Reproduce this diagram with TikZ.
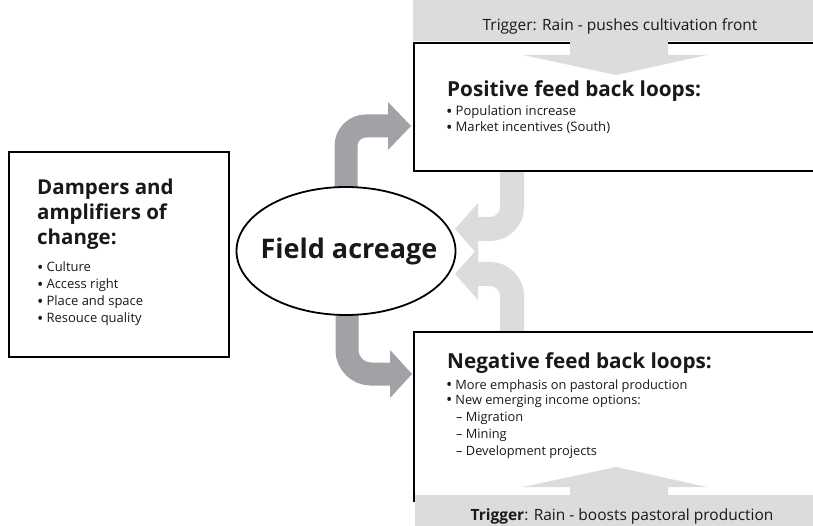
\documentclass[tikz,border=0pt]{standalone}
\usepackage{fontspec}
\setmainfont{Open Sans}
\usetikzlibrary{shapes.geometric,calc}
\definecolor{darkarr}{RGB}{160,162,165}
\definecolor{lightarr}{RGB}{219,220,221}
\definecolor{ink}{RGB}{25,25,25}
\newcommand\mybul{\makebox[0.72em][l]{\raisebox{-0.1em}{\scalebox{1.3}{•}}}}
\pgfdeclarelayer{back}
\pgfdeclarelayer{bg}
\pgfdeclarelayer{fg}
\pgfsetlayers{back,bg,main,fg}
\begin{document}
\begin{tikzpicture}[x=1pt,y=-1pt,
  boxnode/.style={draw=black, line width=1.8pt, fill=white, inner sep=0pt, anchor=north west},
  bandnode/.style={fill=lightarr, inner sep=0pt, anchor=north west},
  txt/.style={inner sep=0pt, anchor=base west, align=left, text=ink},
  darkshaft/.style={draw=darkarr, line width=23pt},
  lightshaft/.style={draw=lightarr, line width=24pt}]
\clip (0,0) rectangle (813,526);
\begin{pgfonlayer}{back}
\fill[white] (0,0) rectangle (813,526);
\end{pgfonlayer}

% boxes
\node[boxnode, minimum width=220pt, minimum height=205pt] (leftbox) at (8,151) {};
\node[boxnode, minimum width=420pt, minimum height=128pt] (posbox) at (413,42) {};
\node[boxnode, minimum width=420pt, minimum height=169pt] (negbox) at (413,331) {};
\node[ellipse, draw=black, line width=1.8pt, fill=white, minimum width=219pt, minimum height=128pt, inner sep=0pt] (ell) at (346,251) {};

% connectors on background
\begin{pgfonlayer}{bg}
  % dark arrows from ellipse to boxes
  \coordinate (da1) at (346,126);
  \coordinate (da1e) at (390,126);
  \draw[darkshaft, rounded corners=20pt] ($(ell.north)+(0,12)$) -- (da1) -- (da1e);
  \fill[darkarr] (388,102) -- (411,126) -- (388,150) -- cycle;
  \coordinate (da2) at (347,374);
  \coordinate (da2e) at (392,374);
  \draw[darkshaft, rounded corners=24pt] ($(ell.south)+(1,-12)$) -- (da2) -- (da2e);
  \fill[darkarr] (390,350) -- (412,374) -- (390,398) -- cycle;
  % light arrows from boxes back to ellipse
  \coordinate (la1) at (512,229);
  \coordinate (la1e) at (478,229);
  \draw[lightshaft, rounded corners=22pt] ($(posbox.south west)+(99,-8)$) -- (la1) -- (la1e);
  \fill[lightarr] (478,203) -- (455,229) -- (478,255) -- cycle;
  \coordinate (la2) at (512,274);
  \coordinate (la2e) at (478,274);
  \draw[lightshaft, rounded corners=22pt] ($(negbox.north west)+(99,8)$) -- (la2) -- (la2e);
  \fill[lightarr] (478,248) -- (455,274) -- (478,300) -- cycle;
\end{pgfonlayer}

% trigger bands and their arrows
\begin{pgfonlayer}{fg}
  \node[bandnode, minimum width=400pt, minimum height=41pt] (topband) at (413,0) {};
  \fill[lightarr] (570,40) -- (570,55) -- (523,55) -- (616,75) -- (707,55) -- (668,55) -- (668,40) -- cycle;
  \node[bandnode, minimum width=398pt, minimum height=32pt] (botband) at (415,495) {};
  \fill[lightarr] (570,496) -- (570,487) -- (523,487) -- (616,467) -- (707,487) -- (668,487) -- (668,496) -- cycle;

  \node[inner sep=0pt, anchor=base, text=ink, font=\fontsize{15.5}{18}\selectfont] (toptxt) at (620,31) {Trigger: Rain - pushes cultivation front};
  \node[inner sep=0pt, anchor=base, text=ink, font=\fontsize{15.5}{18}\selectfont] (bottxt) at (622,520) {\textbf{Trigger}: Rain - boosts pastoral production};

  \node[font=\fontsize{27}{30}\selectfont\bfseries, text=ink, inner sep=0pt] (elltxt) at (349,251) {Field acreage};

  \node[txt] (lefthead) at (37,195) {\parbox[t]{185pt}{\fontsize{20.5}{25}\selectfont\bfseries Dampers and\\amplifiers of\\change:}};
  \node[txt] (leftlist) at (37,272) {\parbox[t]{185pt}{\fontsize{13}{17}\selectfont \mybul Culture\\\mybul Access right\\\mybul Place and space\\\mybul Resouce quality}};

  \node[txt] (poshead) at (447,97) {\fontsize{20.7}{22}\selectfont\bfseries Positive feed back loops:};
  \node[txt] (poslist) at (446,116) {\parbox[t]{300pt}{\fontsize{13.1}{16}\selectfont \mybul Population increase\\\mybul Market incentives (South)}};

  \node[txt] (neghead) at (447,368) {\fontsize{20.7}{22}\selectfont\bfseries Negative feed back loops:};
  \node[txt] (neglist) at (446,389) {\parbox[t]{300pt}{\fontsize{12.8}{15}\selectfont \mybul More emphasis on pastoral production\\\mybul New emerging income options:\\[2.5pt]\hspace*{10pt}– Migration\\[2pt]\hspace*{10pt}– Mining\\[2pt]\hspace*{10pt}– Development projects}};
\end{pgfonlayer}
\end{tikzpicture}
\end{document}
